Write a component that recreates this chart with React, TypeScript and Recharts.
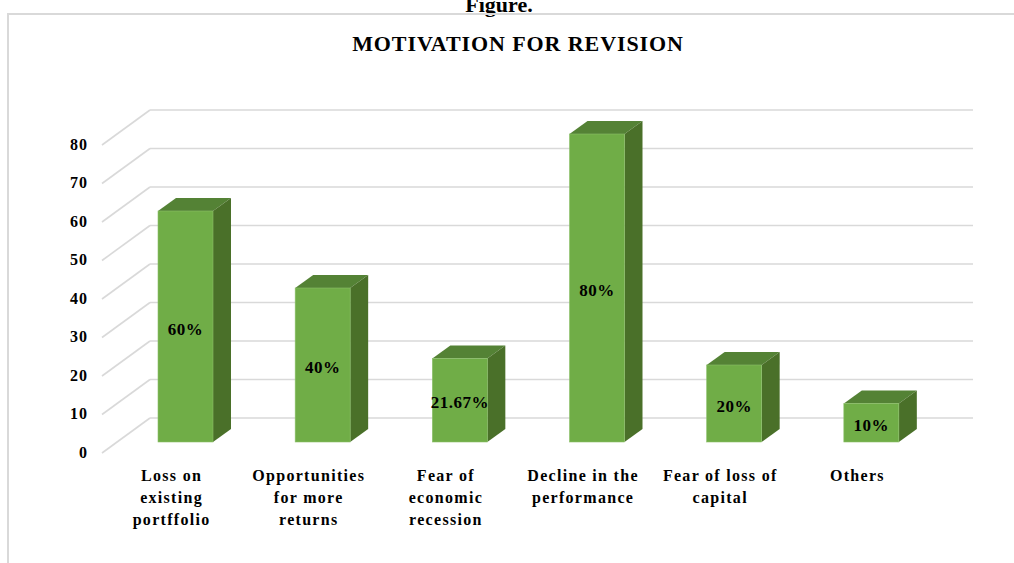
import React from 'react';
import { BarChart, Bar, XAxis, YAxis, CartesianGrid, LabelList } from 'recharts';

// categories (split into the lines shown under each column)
const categoryLines = [
  ['Loss on', 'existing', 'portffolio'],
  ['Opportunities', 'for more', 'returns'],
  ['Fear of', 'economic', 'recession'],
  ['Decline in the', 'performance'],
  ['Fear of loss of', 'capital'],
  ['Others'],
];
const percentValues = [60, 40, 21.67, 80, 20, 10];
const yTicks = [0, 10, 20, 30, 40, 50, 60, 70, 80];

const data = categoryLines.map((lines, i) => ({
  name: lines.join(' '),
  value: percentValues[i],
}));

// 3D look: floor depth and column depth
const DEPTH_X = 47;
const DEPTH_Y = 34;
const BAR_SHIFT_X = 14;
const BAR_SHIFT_Y = 10;
const BAR_DX = 18;
const BAR_DY = 13;

const GRID = '#d9d9d9';
const FRONT = '#70ad47';
const TOP = '#548235';
const SIDE = '#4a7029';
const FONT = '"Liberation Serif", "Times New Roman", serif';

const gridLine = (props: any) => {
  const { x1, y1, x2 } = props;
  return (
    <g key={`grid-${y1}`}>
      <line x1={x1 - 1} y1={y1 + 1} x2={x1 + DEPTH_X} y2={y1 - DEPTH_Y} stroke={GRID} strokeWidth={1.6} />
      <line x1={x1 + DEPTH_X} y1={y1 - DEPTH_Y} x2={x2 + DEPTH_X} y2={y1 - DEPTH_Y} stroke={GRID} strokeWidth={1.6} />
    </g>
  );
};

const Column3D = (props: any) => {
  const { x, y, width, height } = props;
  const fx = x + BAR_SHIFT_X;
  const fy = y - BAR_SHIFT_Y;
  const fb = fy + height;
  return (
    <g>
      <polygon
        points={`${fx},${fy} ${fx + BAR_DX},${fy - BAR_DY} ${fx + width + BAR_DX},${fy - BAR_DY} ${fx + width},${fy}`}
        fill={TOP}
      />
      <polygon
        points={`${fx + width},${fy} ${fx + width + BAR_DX},${fy - BAR_DY} ${fx + width + BAR_DX},${fb - BAR_DY} ${fx + width},${fb}`}
        fill={SIDE}
      />
      <rect x={fx} y={fy} width={width} height={height} fill={FRONT} stroke="#8cc06a" strokeWidth={0.6} />
    </g>
  );
};

const ValueLabel = (props: any) => {
  const { x, y, width, height, value } = props;
  const cx = x + BAR_SHIFT_X + width / 2;
  const cy = y - BAR_SHIFT_Y + height / 2;
  return (
    <text x={cx} y={cy + 8} textAnchor="middle" fontFamily={FONT} fontWeight="bold" fontSize={17} fill="#000" letterSpacing={0.5}>
      {`${value}%`}
    </text>
  );
};

const YTick = (props: any) => {
  const { x, y, payload } = props;
  return (
    <text x={x - 15} y={y + 5.5} textAnchor="end" fontFamily={FONT} fontWeight="bold" fontSize={16} fill="#000" letterSpacing={1}>
      {payload.value}
    </text>
  );
};

const XTick = (props: any) => {
  const { x, y, index } = props;
  const lines = categoryLines[index] || [];
  return (
    <text x={x} y={y + 29} textAnchor="middle" fontFamily={FONT} fontWeight="bold" fontSize={16} fill="#000" letterSpacing={1.3}>
      {lines.map((line, i) => (
        <tspan key={i} x={x} dy={i === 0 ? 0 : 22}>
          {line}
        </tspan>
      ))}
    </text>
  );
};

export default function App() {
  return (
    <div
      style={{
        position: 'absolute',
        left: 0,
        top: 0,
        width: 1014,
        height: 563,
        background: '#fff',
        overflow: 'hidden',
        fontFamily: FONT,
      }}
    >
      <div
        style={{
          position: 'absolute',
          left: 0,
          width: 1014,
          top: -8,
          textAlign: 'center',
          fontWeight: 'bold',
          fontSize: 22,
          lineHeight: '26px',
          paddingRight: 16,
          boxSizing: 'border-box',
        }}
      >
        Figure.
      </div>
      <div
        style={{
          position: 'absolute',
          left: 7,
          top: 13,
          width: 1014,
          height: 563,
          borderLeft: '2px solid #d9d9d9',
          borderTop: '2px solid #d9d9d9',
          background: 'transparent',
        }}
      />
      <div
        style={{
          position: 'absolute',
          left: 340,
          top: 31,
          width: 356,
          textAlign: 'center',
          fontWeight: 'bold',
          fontSize: 22,
          lineHeight: '26px',
          letterSpacing: 0.9,
          whiteSpace: 'nowrap',
        }}
      >
        MOTIVATION FOR REVISION
      </div>
      <div style={{ position: 'absolute', left: 0, top: 0 }}>
        <BarChart
          width={1014}
          height={563}
          data={data}
          margin={{ top: 144, right: 88, bottom: 81, left: 43 }}
          barSize={55}
        >
          <CartesianGrid vertical={false} horizontal={gridLine} />
          <XAxis
            dataKey="name"
            height={30}
            axisLine={false}
            tickLine={false}
            tickSize={0}
            tickMargin={0}
            interval={0}
            tick={<XTick />}
          />
          <YAxis
            width={60}
            domain={[0, 80]}
            ticks={yTicks}
            interval={0}
            axisLine={false}
            tickLine={false}
            tickSize={0}
            tickMargin={0}
            tick={<YTick />}
          />
          <Bar dataKey="value" shape={<Column3D />} isAnimationActive={false}>
            <LabelList dataKey="value" content={<ValueLabel />} />
          </Bar>
        </BarChart>
      </div>
    </div>
  );
}
